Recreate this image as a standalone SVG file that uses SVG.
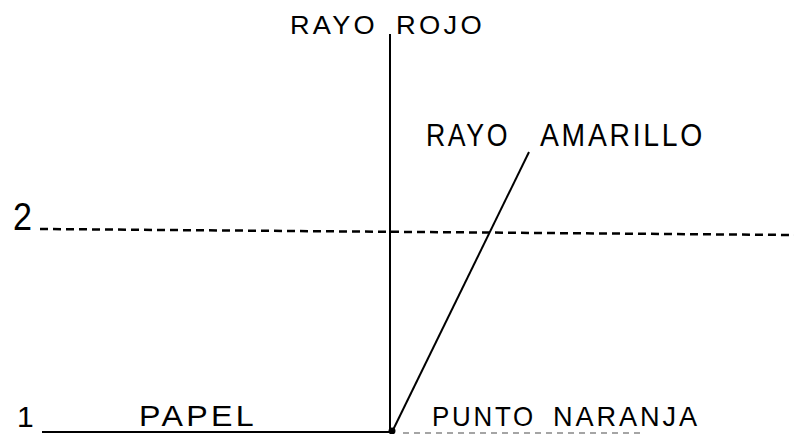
<svg xmlns="http://www.w3.org/2000/svg" width="794" height="434" viewBox="0 0 794 434">
<style>
text{font-family:"Liberation Sans","DejaVu Sans",sans-serif;fill:#000;letter-spacing:3px}
.ln{stroke:#000;stroke-width:2;fill:none}
.dash{stroke:#000;stroke-width:2.5;stroke-dasharray:8 5;fill:none}
.faint{stroke:#888;stroke-width:1.5;stroke-dasharray:6 5;fill:none}
</style>
<rect width="794" height="434" fill="#fff"/>
<g id="connectors">
<line class="ln" x1="390" y1="34" x2="390" y2="432"/>
<line class="ln" x1="392" y1="432" x2="529" y2="152"/>
<line class="dash" x1="40" y1="229" x2="794" y2="235"/>
<line class="ln" x1="42" y1="432" x2="392" y2="432" stroke-width="2.5"/>
<line class="faint" x1="403" y1="433" x2="640" y2="433"/>
<circle cx="392" cy="431" r="3.5" fill="#000"/>
</g>
<g id="rayo-rojo"><text x="290" y="34" font-size="25" textLength="88" lengthAdjust="spacingAndGlyphs">RAYO</text><text x="396" y="34" font-size="25" textLength="89" lengthAdjust="spacingAndGlyphs">ROJO</text></g>
<g id="rayo-amarillo"><text x="426" y="146" font-size="31" textLength="84" lengthAdjust="spacingAndGlyphs">RAYO</text><text x="540" y="146" font-size="31" textLength="165" lengthAdjust="spacingAndGlyphs">AMARILLO</text></g>
<g id="nivel-2"><text x="13" y="230" font-size="38" textLength="19" lengthAdjust="spacingAndGlyphs" style="letter-spacing:0">2</text></g>
<g id="nivel-1"><text x="17" y="427" font-size="30" style="letter-spacing:0">1</text></g>
<g id="papel"><text x="139" y="426" font-size="29" textLength="118" lengthAdjust="spacingAndGlyphs">PAPEL</text></g>
<g id="punto-naranja"><text x="432" y="426" font-size="28" textLength="104" lengthAdjust="spacingAndGlyphs">PUNTO</text><text x="553" y="426" font-size="28" textLength="147" lengthAdjust="spacingAndGlyphs">NARANJA</text></g>
</svg>
